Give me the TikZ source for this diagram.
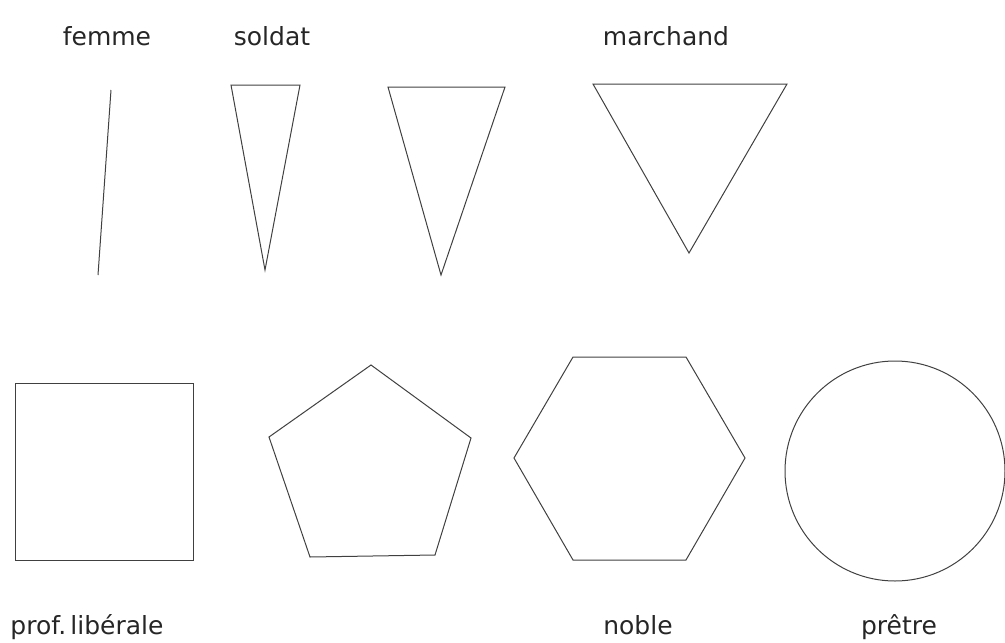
\documentclass[tikz,border=0pt]{standalone}
\usepackage{fontspec}
\setmainfont{DejaVu Sans}
\begin{document}
\begin{tikzpicture}[x=1pt,y=-1pt,
  shp/.style={draw=black!75, line width=1pt, line join=miter},
  lbl/.style={font=\fontsize{25}{30}\selectfont, text=black!85, inner sep=0pt, anchor=base}]
\useasboundingbox (0,0) rectangle (1005,643);
% labels
\node[lbl] (lfemme) at (107,45) {femme};
\node[lbl] (lsoldat) at (272,45) {soldat};
\node[lbl] (lmarchand) at (666,45) {marchand};
\node[lbl] (lprof) at (87,634) {prof.\,libérale};
\node[lbl] (lnoble) at (638,634) {noble};
\node[lbl] (lpretre) at (899,634) {prêtre};
% line
\draw[shp] (111,90) -- (98,275);
% triangles
\draw[shp] (231,85) -- (300,85) -- (265,270) -- cycle;
\draw[shp] (388,87) -- (505,87) -- (441,275) -- cycle;
\draw[shp] (593,84) -- (787,84) -- (689,253) -- cycle;
% square
\draw[shp] (15,383) rectangle (193,560);
% pentagon
\draw[shp] (371,365) -- (471,438) -- (435,555) -- (310,557) -- (269,437) -- cycle;
% hexagon
\draw[shp] (573,357) -- (686,357) -- (745,458) -- (686,560) -- (573,560) -- (514,458) -- cycle;
% circle
\draw[shp] (895,471) circle (110);
\end{tikzpicture}
\end{document}
